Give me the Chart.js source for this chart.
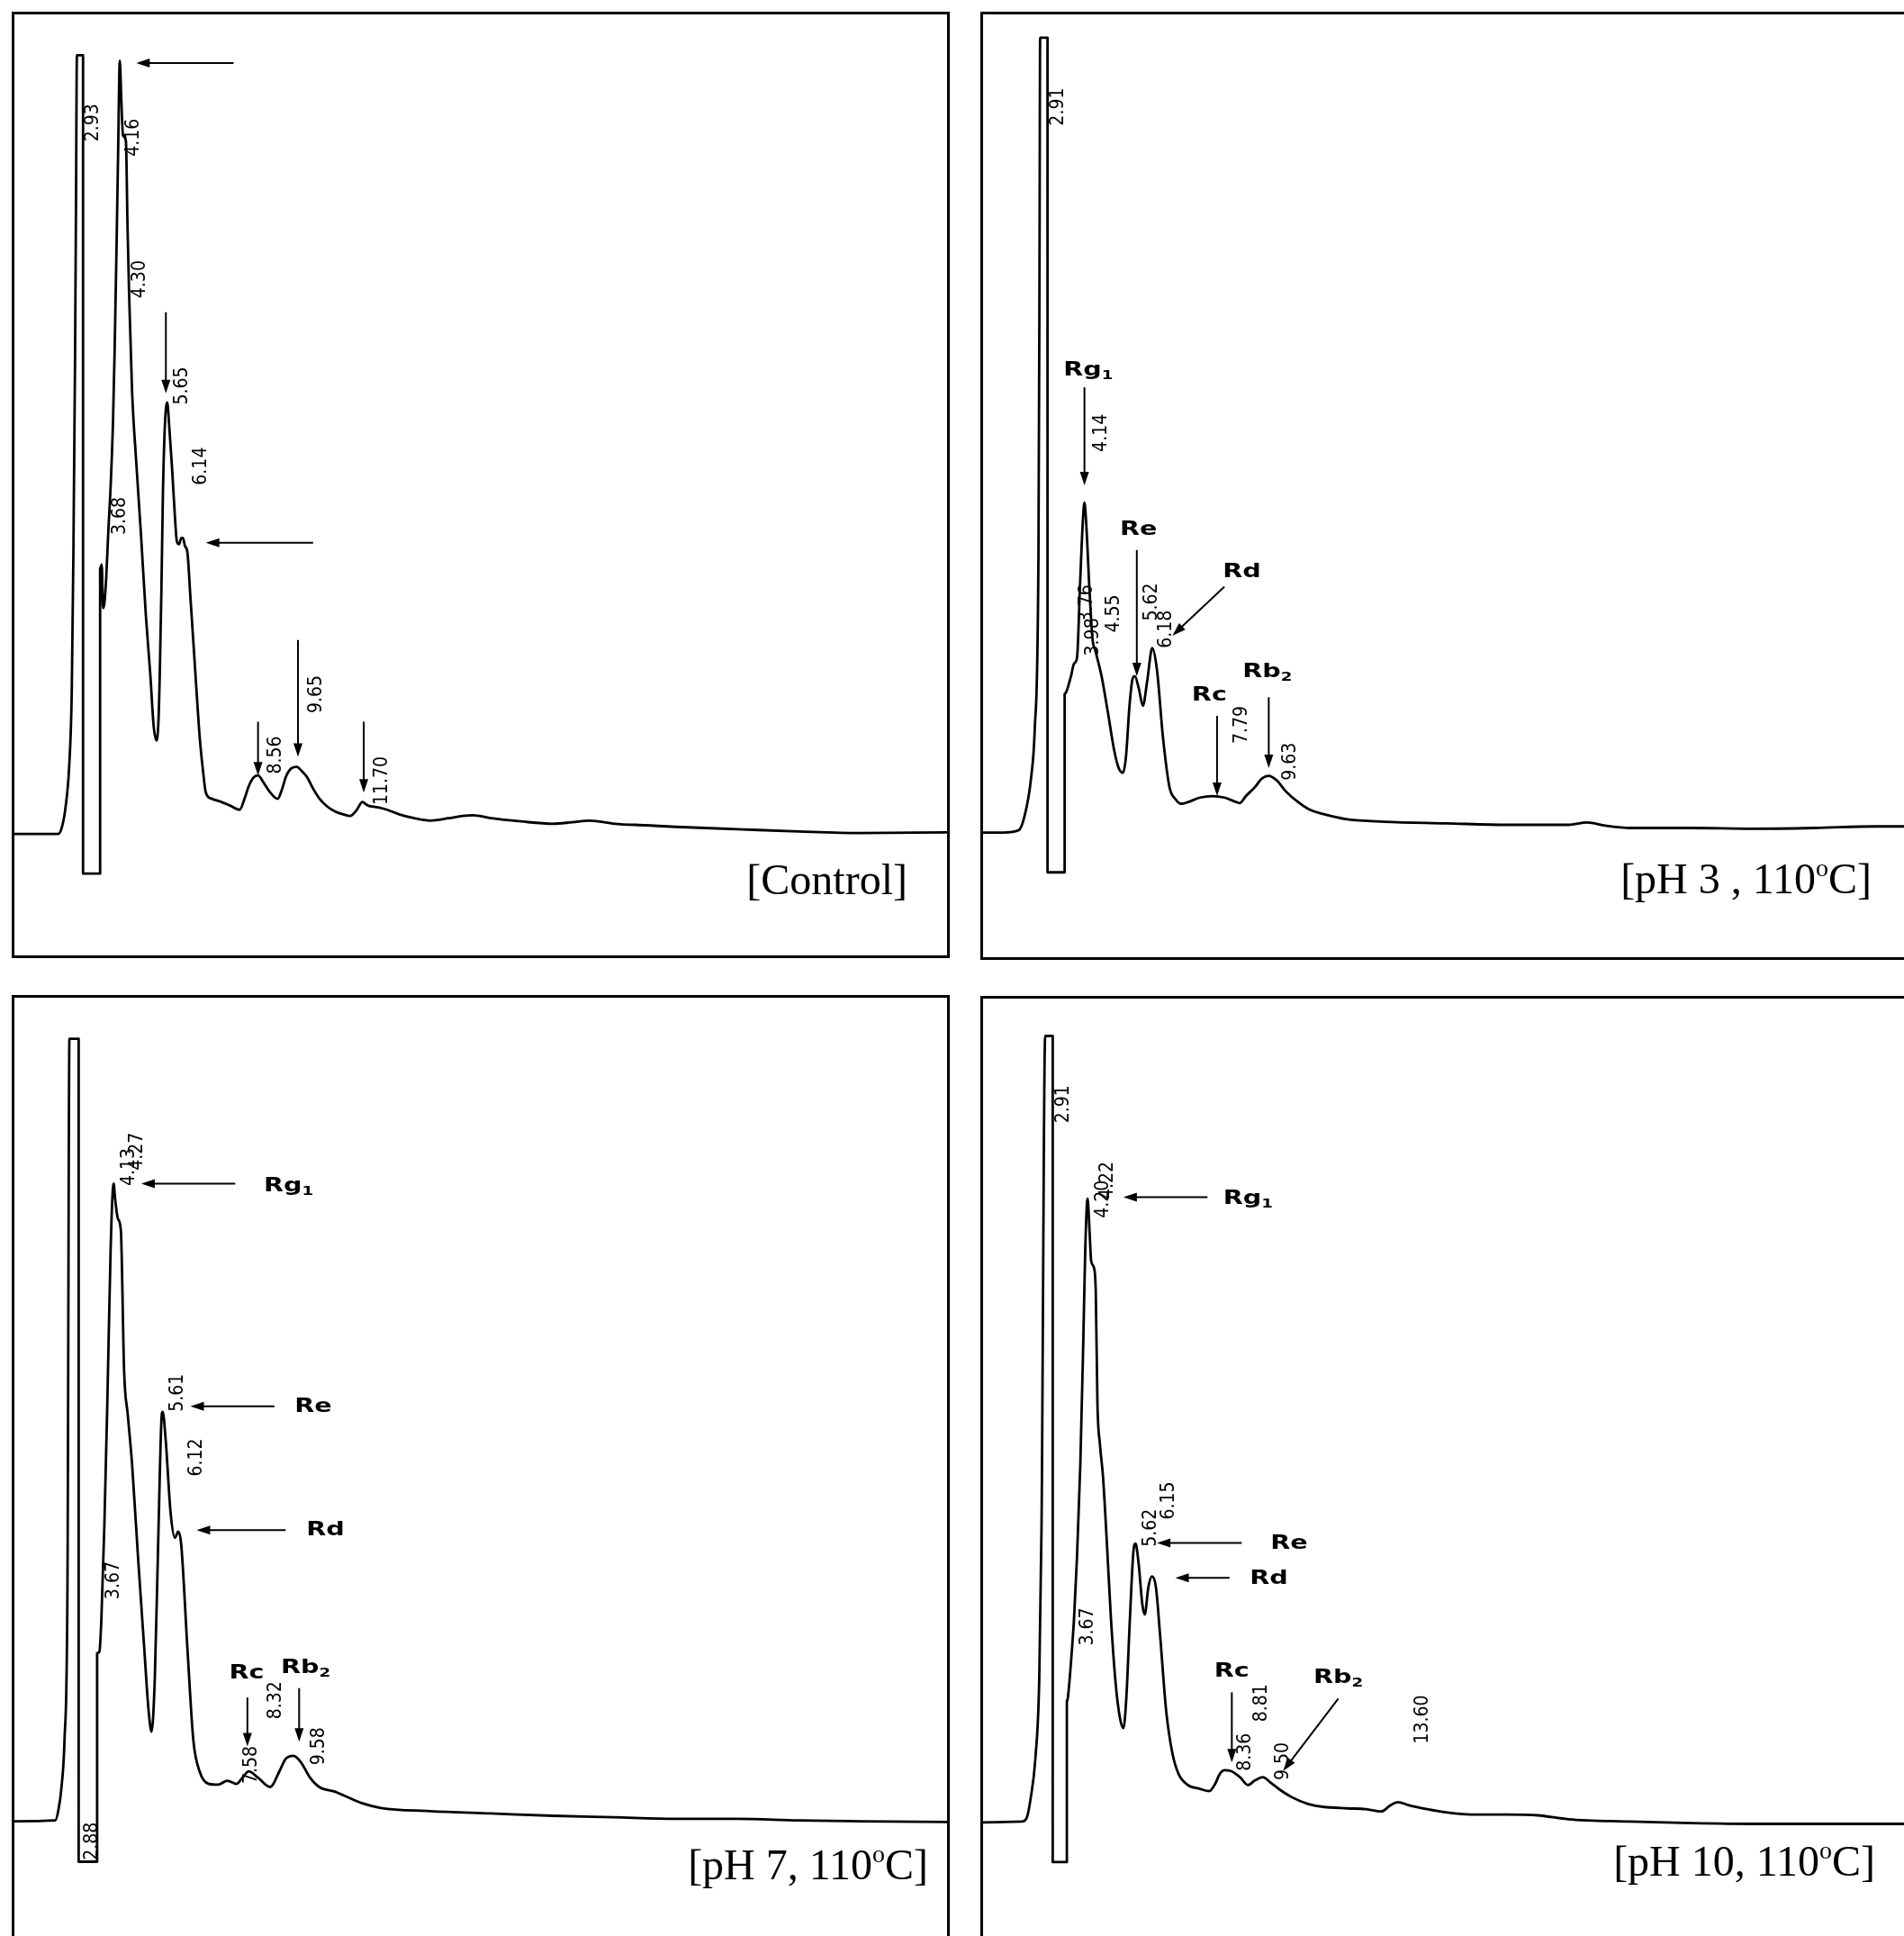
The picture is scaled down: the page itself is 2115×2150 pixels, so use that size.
<!DOCTYPE html>
<html lang="en">
<head>
    <meta charset="UTF-8">
    <title>HPLC chromatograms of ginsenosides</title>
    <script src="https://cdn.jsdelivr.net/npm/chart.js@4.4.1/dist/chart.umd.min.js"></script>
    <style>
        body {
            margin: 0;
            width: 2115px;
            height: 2150px;
            overflow: hidden;
            background: #fff;
        }
        .panel {
            position: absolute;
            width: 1042px;
            border: 3px solid #000;
            box-sizing: border-box;
            background: #fff;
        }
        canvas {
            display: block;
        }
    </style>
</head>
<body>
    <div class="panel" style="left:13px; top:13px; height:1051px;"><canvas id="c1" width="1036" height="1045"></canvas></div>
    <div class="panel" style="left:1089px; top:13px; height:1053px;"><canvas id="c2" width="1036" height="1047"></canvas></div>
    <div class="panel" style="left:13px; top:1105px; height:1060px;"><canvas id="c3" width="1036" height="1054"></canvas></div>
    <div class="panel" style="left:1089px; top:1106px; height:1060px;"><canvas id="c4" width="1036" height="1054"></canvas></div>

    <script>
        // retention time (min) and detector signal (mV, baseline = 0)
        const ctrlTime = [
            0.89, 2.25, 2.36, 2.47, 2.59, 2.67, 2.72, 2.77, 2.80, 2.83,
            3.02, 3.02, 3.55, 3.55, 3.60, 3.64, 3.68, 3.74, 3.80, 3.88,
            3.95, 4.00, 4.06, 4.11, 4.16, 4.21, 4.26, 4.35, 4.40, 4.45,
            4.54, 4.67, 4.82, 4.97, 5.11, 5.21, 5.30, 5.36, 5.40, 5.45,
            5.50, 5.56, 5.63, 5.70, 5.78, 5.86, 5.93, 6.00, 6.07, 6.12,
            6.18, 6.26, 6.35, 6.45, 6.55, 6.64, 6.74, 6.83, 7.02, 7.31,
            7.60, 7.88, 8.03, 8.16, 8.30, 8.45, 8.62, 8.83, 9.06, 9.20,
            9.31, 9.48, 9.65, 9.80, 9.97, 10.16, 10.36, 10.60, 10.83, 11.10,
            11.31, 11.50, 11.69, 11.80, 11.88, 12.05, 12.17, 12.45, 12.83, 13.30,
            13.79, 14.36, 14.80, 15.12, 15.69, 16.60, 17.60, 18.20, 18.74, 19.51,
            20.50, 21.41, 23.32, 25.22, 27.13, 29.83
        ];
        const ctrlSignal = [
            0, 0, 0.8, 3.2, 8.7, 18.3, 35.7, 60, 80, 100,
            100, -5.1, -5.1, 34.1, 34.6, 29.0, 29.5, 33.0, 38.5, 45.0,
            53.0, 62.0, 75.5, 88.0, 99.3, 94.0, 89.7, 89.0, 78.0, 69.2,
            57.0, 47.8, 38.3, 28.0, 20.3, 13.9, 12.0, 14.5, 20.3, 31.0,
            44.0, 52.5, 55.4, 52.0, 47.1, 41.5, 37.6, 37.2, 38.0, 38.0,
            37.0, 36.1, 30.5, 24.2, 17.8, 12.4, 8.2, 5.3, 4.5, 4.1,
            3.6, 3.1, 4.5, 6.1, 7.2, 7.5, 6.6, 5.3, 4.5, 5.8,
            7.3, 8.4, 8.6, 8.1, 7.3, 5.8, 4.5, 3.5, 2.9, 2.5,
            2.3, 3.0, 4.1, 3.8, 3.6, 3.5, 3.4, 3.1, 2.5, 2.0,
            1.7, 2.0, 2.3, 2.4, 2.0, 1.6, 1.3, 1.5, 1.7, 1.3,
            1.1, 0.9, 0.6, 0.3, 0.1, 0.2
        ];

        const ph3Time = [
            1.12, 1.72, 2.18, 2.36, 2.55, 2.66, 2.77, 2.80, 2.82, 3.04,
            3.04, 3.55, 3.55, 3.61, 3.74, 3.83, 3.92, 4.01, 4.10, 4.14,
            4.19, 4.29, 4.38, 4.47, 4.65, 4.84, 5.02, 5.16, 5.29, 5.38,
            5.48, 5.57, 5.64, 5.76, 5.88, 6.01, 6.16, 6.30, 6.48, 6.67,
            6.85, 7.03, 7.21, 7.58, 7.95, 8.31, 8.68, 8.77, 8.95, 9.23,
            9.41, 9.63, 9.87, 10.14, 10.51, 10.87, 11.24, 11.97, 13.07, 14.90,
            16.73, 18.56, 19.11, 19.66, 20.39, 22.22, 24.05, 25.88, 27.71, 28.90
        ];
        const ph3Signal = [
            0, 0, 0.3, 2.2, 7.0, 13.3, 35.6, 70, 102.1, 102.1,
            -5.1, -5.1, 17.8, 18.2, 20.1, 21.7, 22.5, 32.0, 40.6, 42.4,
            39.9, 31.2, 24.9, 23.3, 20.1, 15.4, 10.7, 8.3, 7.7, 9.9,
            16.2, 19.7, 20.1, 18.5, 16.3, 19.5, 23.7, 20.9, 12.2, 5.9,
            4.3, 3.7, 3.9, 4.5, 4.7, 4.5, 3.9, 3.8, 4.7, 5.9,
            6.9, 7.3, 6.7, 5.3, 3.9, 2.9, 2.4, 1.7, 1.4, 1.2,
            1.0, 1.0, 1.3, 0.9, 0.6, 0.6, 0.5, 0.6, 0.8, 0.8
        ];

        const ph7Time = [
            1.11, 2.35, 2.44, 2.53, 2.63, 2.72, 2.78, 3.06, 3.06, 3.62,
            3.62, 3.69, 3.75, 3.84, 3.93, 4.03, 4.12, 4.17, 4.25, 4.34,
            4.44, 4.55, 4.68, 4.86, 5.05, 5.18, 5.27, 5.37, 5.48, 5.57,
            5.61, 5.70, 5.85, 5.98, 6.08, 6.17, 6.36, 6.54, 6.73, 7.01,
            7.29, 7.57, 7.85, 8.03, 8.22, 8.50, 8.87, 9.15, 9.34, 9.58,
            9.80, 10.08, 10.36, 10.83, 11.11, 11.67, 12.23, 13.72, 15.58, 17.45,
            19.31, 21.17, 23.04, 24.90, 26.77, 29.41
        ];
        const ph7Signal = [
            -0.1, 0, 1.2, 3.9, 10.3, 30.0, 100.4, 100.4, -5.3, -5.3,
            21.5, 21.7, 26.0, 37.9, 53.7, 73.4, 81.8, 79.7, 77.3, 75.8,
            57.6, 52.1, 45.8, 33.9, 22.1, 14.2, 11.4, 18.2, 37.0, 51.3,
            52.5, 48.9, 39.5, 36.3, 37.1, 35.5, 22.1, 10.3, 6.3, 4.7,
            4.6, 5.1, 4.7, 5.5, 6.3, 5.5, 4.3, 6.3, 7.9, 8.3,
            7.5, 5.5, 4.3, 3.7, 3.2, 2.2, 1.6, 1.2, 0.9, 0.6,
            0.4, 0.2, 0.2, 0, -0.1, -0.2
        ];

        const ph10Time = [
            0.98, 2.16, 2.31, 2.44, 2.57, 2.69, 2.76, 2.87, 3.10, 3.10,
            3.53, 3.53, 3.56, 3.66, 3.75, 3.84, 3.94, 4.03, 4.09, 4.16,
            4.22, 4.27, 4.35, 4.41, 4.46, 4.54, 4.63, 4.74, 4.87, 5.02,
            5.15, 5.25, 5.34, 5.45, 5.56, 5.62, 5.71, 5.83, 5.90, 6.01,
            6.12, 6.24, 6.37, 6.55, 6.74, 6.93, 7.21, 7.58, 7.86, 8.05,
            8.18, 8.33, 8.52, 8.80, 9.04, 9.26, 9.49, 9.73, 10.01, 10.39,
            10.85, 11.32, 12.07, 12.63, 13.10, 13.38, 13.60, 13.94, 14.50, 15.06,
            15.99, 16.93, 17.86, 18.79, 20.66, 22.54, 24.41, 26.28, 28.15, 29.36
        ];
        const ph10Signal = [
            0, 0.1, 0.6, 3.4, 8.1, 18.4, 38.1, 101.0, 101.0, -5.1,
            -5.1, 15.6, 16.0, 20.8, 26.3, 34.2, 46.0, 61.8, 73.6, 80.1,
            76.0, 72.1, 71.3, 68.1, 53.9, 48.4, 44.4, 36.5, 26.3, 17.6,
            13.3, 12.1, 16.0, 26.3, 35.0, 35.8, 33.4, 27.9, 26.7, 30.2,
            31.6, 30.2, 23.9, 14.4, 8.9, 6.2, 4.8, 4.3, 4.0, 5.0,
            6.2, 6.7, 6.6, 5.8, 4.8, 5.4, 5.8, 5.1, 4.2, 3.2,
            2.4, 2.0, 1.8, 1.7, 1.4, 2.2, 2.6, 2.2, 1.7, 1.3,
            1.0, 1.0, 0.9, 0.4, 0.1, -0.1, -0.2, -0.2, -0.2, -0.2
        ];

        // printed retention times: [label, time, signal at the foot of the text]
        const ctrlPeaks = [
            ['2.93', 3.34, 88.9], ['4.16', 4.60, 87.0], ['4.30', 4.79, 68.8],
            ['3.68', 4.16, 38.4], ['5.65', 6.10, 55.1], ['6.14', 6.68, 44.8],
            ['8.56', 9.02, 7.7], ['9.65', 10.26, 15.5], ['11.70', 12.30, 3.7]
        ];
        const ph3Peaks = [
            ['2.91', 3.37, 90.8], ['4.14', 4.65, 48.9], ['3.76', 4.21, 27.0],
            ['3.98', 4.40, 22.7], ['4.55', 5.02, 25.7], ['5.62', 6.15, 27.2],
            ['6.18', 6.57, 23.7], ['7.79', 8.83, 11.4], ['9.63', 10.29, 6.7]
        ];
        const ph7Peaks = [
            ['2.88', 3.47, -5.1], ['4.13', 4.60, 81.5], ['4.27', 4.85, 83.5],
            ['5.61', 6.08, 52.5], ['6.12', 6.64, 44.2], ['3.67', 4.12, 28.4],
            ['8.32', 9.06, 13.0], ['9.58', 10.36, 7.1], ['7.58', 8.31, 4.7]
        ];
        const ph10Peaks = [
            ['2.91', 3.43, 89.8], ['4.20', 4.65, 77.6], ['4.22', 4.78, 80.0],
            ['5.62', 6.09, 35.4], ['6.15', 6.65, 38.9], ['3.67', 4.18, 22.7],
            ['8.36', 8.98, 6.6], ['8.81', 9.45, 12.9], ['9.50', 10.11, 5.4],
            ['13.60', 14.35, 10.1]
        ];

        // ginsenoside names: [name, subscript, time, signal]
        const ph3Names = [['Rg', '1', 4.25, 59.6], ['Re', '', 5.75, 39.2], ['Rd', '', 8.83, 33.7], ['Rc', '', 7.86, 17.9], ['Rb', '2', 9.59, 20.9]];
        const ph7Names = [['Rg', '1', 9.43, 81.7], ['Re', '', 10.18, 53.4], ['Rd', '', 10.55, 37.5], ['Rc', '', 8.16, 19.2], ['Rb', '2', 9.95, 19.9]];
        const ph10Names = [['Rg', '1', 9.04, 80.3], ['Re', '', 10.29, 36.1], ['Rd', '', 9.68, 31.6], ['Rc', '', 8.55, 19.6], ['Rb', '2', 11.79, 18.8]];

        // arrows: [from time, from signal, to time, to signal]
        const ctrlArrows = [
            [7.69, 99.0, 4.67, 99.0], [5.59, 67.0, 5.59, 56.6], [10.16, 37.4, 6.83, 37.4],
            [8.45, 14.4, 8.45, 7.5], [9.69, 24.9, 9.69, 9.9], [11.73, 14.4, 11.73, 5.3]
        ];
        const ph3Arrows = [
            [4.14, 57.2, 4.14, 44.6], [5.70, 36.3, 5.70, 20.1], [8.31, 31.6, 6.76, 25.3],
            [8.09, 15.0, 8.09, 4.7], [9.63, 17.4, 9.63, 8.3]
        ];
        const ph7Arrows = [
            [7.81, 81.8, 4.96, 81.8], [9.00, 53.2, 6.45, 53.2], [9.34, 37.3, 6.64, 37.3],
            [8.18, 15.8, 8.18, 9.5], [9.75, 17.0, 9.75, 10.1]
        ];
        const ph10Arrows = [
            [7.81, 80.3, 5.25, 80.3], [8.85, 35.9, 6.27, 35.9], [8.48, 31.4, 6.83, 31.4],
            [8.55, 16.7, 8.55, 7.7], [11.79, 15.9, 10.11, 6.6]
        ];

        const panelTitles = ['[Control]', '[pH 3 , 110ºC]', '[pH 7, 110ºC]', '[pH 10, 110ºC]'];

        function drawArrow(ctx, x0, y0, x1, y1) {
            const a = Math.atan2(y1 - y0, x1 - x0);
            const c = Math.cos(a), s = Math.sin(a);
            ctx.lineWidth = 2;
            ctx.beginPath();
            ctx.moveTo(x0, y0);
            ctx.lineTo(x1 - 10 * c, y1 - 10 * s);
            ctx.stroke();
            ctx.beginPath();
            ctx.moveTo(x1, y1);
            ctx.lineTo(x1 - 15 * c + 5 * s, y1 - 15 * s - 5 * c);
            ctx.lineTo(x1 - 15 * c - 5 * s, y1 - 15 * s + 5 * c);
            ctx.closePath();
            ctx.fill();
        }

        function drawName(ctx, name, sub, px, py) {
            ctx.save();
            ctx.translate(px, py);
            ctx.scale(1.3, 1);
            ctx.textAlign = 'left';
            ctx.textBaseline = 'alphabetic';
            ctx.font = 'bold 22px "DejaVu Sans"';
            const w = ctx.measureText(name).width;
            ctx.font = 'bold 14px "DejaVu Sans"';
            const ws = sub ? ctx.measureText(sub).width : 0;
            const left = -(w + ws) / 2;
            ctx.font = 'bold 22px "DejaVu Sans"';
            ctx.fillText(name, left, 8);
            if (sub) {
                ctx.font = 'bold 14px "DejaVu Sans"';
                ctx.fillText(sub, left + w, 12);
            }
            ctx.restore();
        }

        function drawTitle(ctx, text, right, base) {
            const parts = text.split('º');
            const big = '48px "Liberation Serif"', small = '28px "Liberation Serif"';
            ctx.textAlign = 'left';
            ctx.textBaseline = 'alphabetic';
            ctx.font = big;
            const wHead = ctx.measureText(parts[0]).width;
            const wTail = parts[1] ? ctx.measureText(parts[1]).width : 0;
            ctx.font = small;
            const wO = parts[1] !== undefined ? ctx.measureText('o').width : 0;
            let x = right - wHead - wO - wTail;
            ctx.font = big;
            ctx.fillText(parts[0], x, base);
            if (parts[1] !== undefined) {
                ctx.font = small;
                ctx.fillText('o', x + wHead, base - 19);
                ctx.font = big;
                ctx.fillText(parts[1], x + wHead + wO, base);
            }
        }

        // peak labels, names, arrows and the panel caption
        const notesPlugin = {
            id: 'notes',
            afterDatasetsDraw(chart, args, opts) {
                const ctx = chart.ctx;
                const xs = chart.scales.x, ys = chart.scales.y;
                ctx.save();
                ctx.fillStyle = '#000';
                ctx.strokeStyle = '#000';

                opts.arrows.forEach(([t0, v0, t1, v1]) => {
                    drawArrow(ctx, xs.getPixelForValue(t0), ys.getPixelForValue(v0),
                        xs.getPixelForValue(t1), ys.getPixelForValue(v1));
                });

                opts.peaks.forEach(([label, t, v]) => {
                    ctx.save();
                    ctx.translate(xs.getPixelForValue(t), ys.getPixelForValue(v));
                    ctx.rotate(-Math.PI / 2);
                    ctx.scale(0.9, 1);
                    ctx.font = '21px "DejaVu Sans"';
                    ctx.textAlign = 'left';
                    ctx.textBaseline = 'middle';
                    ctx.fillText(label, 0, 0);
                    ctx.restore();
                });

                opts.names.forEach(([name, sub, t, v]) => {
                    drawName(ctx, name, sub, xs.getPixelForValue(t), ys.getPixelForValue(v));
                });

                drawTitle(ctx, opts.title, opts.titleAt[0], opts.titleAt[1]);
                ctx.restore();
            }
        };

        function createChart(id, time, signal, xRange, yRange, notes) {
            const ctx = document.getElementById(id).getContext('2d');
            new Chart(ctx, {
                type: 'line',
                data: {
                    datasets: [{
                        data: time.map((t, i) => ({ x: t, y: signal[i] })),
                        borderColor: '#000',
                        borderWidth: 2.8,
                        borderJoinStyle: 'round',
                        pointRadius: 0,
                        cubicInterpolationMode: 'monotone',
                        fill: false
                    }]
                },
                options: {
                    responsive: false,
                    animation: false,
                    events: [],
                    layout: { padding: 0 },
                    plugins: {
                        legend: { display: false },
                        tooltip: { enabled: false },
                        notes: notes
                    },
                    scales: {
                        x: { type: 'linear', min: xRange[0], max: xRange[1], display: false },
                        y: { type: 'linear', min: yRange[0], max: yRange[1], display: false }
                    }
                },
                plugins: [notesPlugin]
            });
        }

        createChart('c1', ctrlTime, ctrlSignal, [0.89, 29.83], [-15.61, 105.25],
            { peaks: ctrlPeaks, names: [], arrows: ctrlArrows, title: panelTitles[0], titleAt: [992, 977] });
        createChart('c2', ph3Time, ph3Signal, [1.12, 28.90], [-16.0, 105.1],
            { peaks: ph3Peaks, names: ph3Names, arrows: ph3Arrows, title: panelTitles[1], titleAt: [987, 976] });
        createChart('c3', ph7Time, ph7Signal, [1.11, 29.41], [-16.23, 105.68],
            { peaks: ph7Peaks, names: ph7Names, arrows: ph7Arrows, title: panelTitles[2], titleAt: [1015, 979] });
        createChart('c4', ph10Time, ph10Signal, [0.98, 29.36], [-16.10, 105.80],
            { peaks: ph10Peaks, names: ph10Names, arrows: ph10Arrows, title: panelTitles[3], titleAt: [991, 974] });
    </script>
</body>
</html>
